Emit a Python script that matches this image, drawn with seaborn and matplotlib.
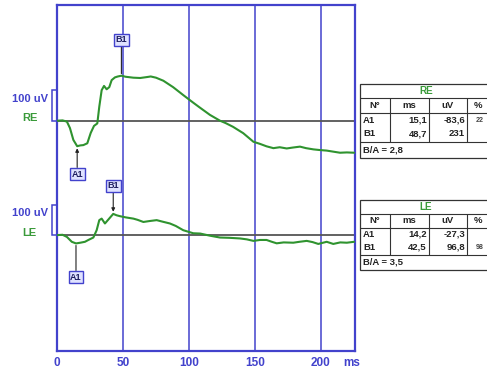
import numpy as np
import pandas as pd
import matplotlib
matplotlib.use("Agg")
import matplotlib.pyplot as plt
import seaborn as sns

# ---- waveform samples (time in ms, amplitude in uV) ----
re_ms = [0, 4, 7.3, 9.6, 12.2, 15.1, 17.5, 19.8, 22.8, 25.4, 27.9, 30.4, 31.9, 33.7,
         35.5, 37.5, 39.5, 41.3, 43.8, 46.0, 48.7, 52.0, 57.8, 63.0, 68.0, 71.0, 75.0,
         80.6, 88.0, 95.7, 103.0, 108.0, 116.0, 123.6, 128.0, 133.5, 141.3, 149.0,
         154.0, 159.0, 164.2, 169.0, 174.3, 179.0, 184.4, 189.0, 194.6, 199.0, 204.7,
         209.0, 214.8, 220.0, 225.5]
re_uv = [0, 1, -3, -24, -63, -83.6, -81, -80, -74, -40, -17, -9, 46, 100,
         114, 103, 110, 133, 142, 145, 147.4, 144, 141, 140, 143, 145, 141,
         131, 110, 84, 60, 44, 19, 0, -8, -20, -41, -69,
         -76, -84, -90, -87, -91, -88, -85, -90, -94, -96, -98,
         -101, -105, -104, -105]

le_ms = [0, 4, 7.3, 11.0, 14.2, 17.5, 21.0, 23.6, 27.4, 29.9, 31.9, 33.7, 36.2,
         38.8, 42.5, 45.0, 47.6, 52.0, 57.8, 61.0, 65.4, 70.0, 75.5, 80.0, 85.6,
         90.0, 95.7, 103.3, 108.6, 116.0, 123.6, 131.0, 138.8, 144.0, 149.0, 154.0,
         159.0, 163.0, 166.7, 172.0, 179.3, 184.0, 189.5, 194.0, 198.3, 204.7, 209.7,
         215.0, 220.0, 225.5]
le_uv = [0, 1, -6, -22, -27.3, -25, -22, -16, -8, 16, 49, 54, 38,
         51, 69.5, 65, 62, 58, 54, 50, 43, 46, 49, 44, 38,
         30, 16, 6, 5, -2, -8, -9, -11, -14, -19, -16,
         -16, -22, -27, -24, -25, -22, -19, -23, -29, -22, -29,
         -24, -25, -22]

# ---- measurement tables ----
table_cols = ["N°", "ms", "uV", "%"]
re_names = ["A1", "B1"]
re_lat = ["15,1", "48,7"]
re_amp = ["-83,6", "231"]
re_pct = ["22", ""]
re_ratio = "B/A = 2,8"
le_names = ["A1", "B1"]
le_lat = ["14,2", "42,5"]
le_amp = ["-27,3", "96,8"]
le_pct = ["", "98"]
le_ratio = "B/A = 3,5"

xticks = [0, 50, 100, 150, 200]
channels = ["RE", "LE"]
channel_offset = {"RE": 0.0, "LE": -375.0}   # vertical stacking in uV

BLUE = "#4242cc"
GREEN = "#2f932f"
LGREEN = "#3a9a3a"

sns.set_style("white")
plt.rcParams["font.family"] = ["Liberation Sans", "DejaVu Sans"]

fig = plt.figure(figsize=(4.87, 3.71), dpi=100)
W, H = 487, 371
ax = fig.add_axes([57.3 / W, (H - 351) / H, (355 - 57.3) / W, (351 - 5) / H])

df = pd.concat([
    pd.DataFrame({"ms": re_ms, "uV": re_uv, "channel": "RE"}),
    pd.DataFrame({"ms": le_ms, "uV": le_uv, "channel": "LE"}),
], ignore_index=True)
df["y"] = df["uV"] + df["channel"].map(channel_offset)

# grid and baselines
for t in xticks[1:]:
    ax.axvline(t, color=BLUE, lw=1.1, zorder=1)
for ch in channels:
    ax.axhline(channel_offset[ch], color="#555555", lw=1.3, zorder=2)

sns.lineplot(data=df, x="ms", y="y", hue="channel", units="channel",
             estimator=None, palette={"RE": GREEN, "LE": GREEN},
             legend=False, lw=1.5, ax=ax, zorder=3)

ax.set_xlim(0, 226.2)
ax.set_ylim(-755, 379.3)
ax.set_xticks(xticks)
ax.set_xticklabels([str(t) for t in xticks])
ax.set_yticks([])
ax.set_xlabel("")
ax.set_ylabel("")
ax.tick_params(axis="x", length=0, pad=4, labelsize=8.5, labelcolor=BLUE)
for lbl in ax.get_xticklabels():
    lbl.set_fontweight("bold")
for sp in ax.spines.values():
    sp.set_color(BLUE)
    sp.set_linewidth(1.6)

# peak markers (B1 amplitude is measured from A1)
box = dict(boxstyle="square,pad=0.18", fc="#dfe2ff", ec=BLUE, lw=1)
def mark(name, ms, level, box_y, head):
    ax.annotate(name, xy=(ms, level), xytext=(ms, box_y), ha="center", va="center",
                fontsize=6.5, fontweight="bold", color="#1e1e60", bbox=box,
                arrowprops=dict(arrowstyle="-|>" if head else "-", color="#222222",
                                lw=0.8, mutation_scale=5, shrinkA=0, shrinkB=1.5),
                zorder=5)

re_a = float(re_amp[0].replace(",", "."))
re_b = re_a + float(re_amp[1].replace(",", "."))
le_a = float(le_amp[0].replace(",", "."))
le_b = le_a + float(le_amp[1].replace(",", "."))
o_le = channel_offset["LE"]
mark("A1", float(re_lat[0].replace(",", ".")), re_a, -175, True)
mark("B1", float(re_lat[1].replace(",", ".")), re_b, 265, False)
mark("B1", float(le_lat[1].replace(",", ".")), o_le + le_b, o_le + 161, True)
mark("A1", float(le_lat[0].replace(",", ".")), o_le + le_a, o_le - 138, False)

# overlay in pixel units for side labels and tables
ov = fig.add_axes([0, 0, 1, 1], zorder=10)
ov.set_xlim(0, W)
ov.set_ylim(H, 0)
ov.axis("off")
ov.patch.set_alpha(0)

# channel labels and 100 uV calibration brackets
for ch, base in (("RE", 120.7), ("LE", 235.0)):
    ov.text(30, base - 21.5, "100 uV", ha="center", va="center", fontsize=8,
            fontweight="bold", color=BLUE)
    ov.text(29.5, base - 2.5, ch, ha="center", va="center", fontsize=8,
            fontweight="bold", color=LGREEN)
    top = base - 100 * 0.305
    ov.plot([56, 52.3, 52.3, 56], [top, top, base, base], color=BLUE, lw=1.1,
            solid_joinstyle="miter")

ov.text(352, 362.7, "ms", ha="center", va="center", fontsize=8.5,
        fontweight="bold", color=BLUE)

def draw_table(rows_y, title, names, lat, amp, pct, ratio):
    top, t1, t2, t3, t4 = rows_y
    x0, c1, c2, c3, x1 = 360, 390, 429, 467, 492
    lc = "#333333"
    ov.add_patch(plt.Rectangle((x0, top), x1 - x0, t4 - top, fc="white",
                               ec=lc, lw=0.9, clip_on=False))
    for yy in (t1, t2, t3):
        ov.plot([x0, x1], [yy, yy], color=lc, lw=0.8)
    for xx in (c1, c2, c3):
        ov.plot([xx, xx], [t1, t3], color=lc, lw=0.8)
    fs = 6.8
    ov.text((x0 + x1) / 2, (top + t1) / 2, title, ha="center", va="center",
            fontsize=fs + 0.3, fontweight="bold", color=LGREEN)
    hy = (t1 + t2) / 2
    for txt, cx in zip(table_cols, [(x0 + c1) / 2, (c1 + c2) / 2, (c2 + c3) / 2, 478]):
        ov.text(cx, hy, txt, ha="center", va="center", fontsize=fs,
                fontweight="bold", color="#222222")
    dh = t3 - t2
    for i in range(len(names)):
        ry = t2 + dh * (0.25 + 0.46 * i)
        ov.text(x0 + 3, ry, names[i], ha="left", va="center", fontsize=fs,
                fontweight="bold", color="#222222")
        ov.text(c2 - 2, ry, lat[i], ha="right", va="center", fontsize=fs,
                fontweight="bold", color="#222222")
        ov.text(c3 - 2, ry, amp[i], ha="right", va="center", fontsize=fs,
                fontweight="bold", color="#222222")
        if pct[i]:
            ov.text(476, ry, pct[i], ha="left", va="center", fontsize=5,
                    fontweight="bold", color="#444444")
    ov.text(x0 + 3, (t3 + t4) / 2, ratio, ha="left", va="center", fontsize=fs,
            fontweight="bold", color="#222222")

draw_table((84, 98, 113, 142, 158), "RE", re_names, re_lat, re_amp, re_pct, re_ratio)
draw_table((200, 213.5, 227.5, 255, 270), "LE", le_names, le_lat, le_amp, le_pct, le_ratio)

fig.savefig("out.png", dpi=100, facecolor="white")
